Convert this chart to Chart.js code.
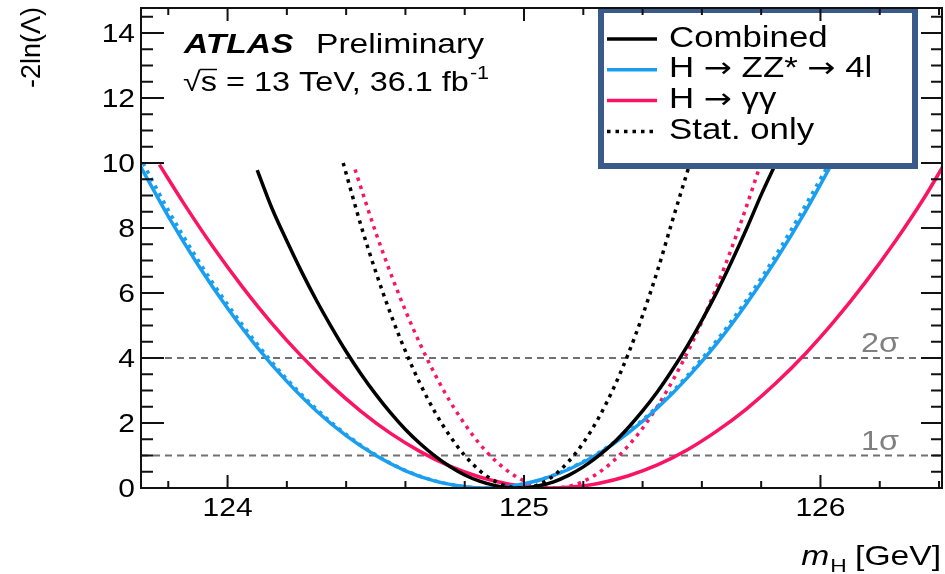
<!DOCTYPE html>
<html>
<head>
<meta charset="utf-8">
<script src="https://cdn.jsdelivr.net/npm/chart.js@4.4.1/dist/chart.umd.min.js"></script>
<style>
  html, body { margin: 0; padding: 0; background: #fff; }
  canvas { display: block; }
</style>
</head>
<body>
<canvas id="mass" width="945" height="574"></canvas>
<script>
// axis ranges and tick labels
const X_MIN = 123.708;
const X_MAX = 126.41;
const Y_MAX = 14.77;
const xTickValues = [124, 125, 126];
const yTickValues = [0, 2, 4, 6, 8, 10, 12, 14];
const sigmaLevels = [4, 1];
const sigmaLabels = ["2\u03c3", "1\u03c3"];

// Combined
const combinedMass = [124.10, 124.15, 124.20, 124.25, 124.30, 124.35, 124.40, 124.45, 124.50, 124.55, 124.60, 124.65, 124.70, 124.75, 124.80, 124.85, 124.90, 124.95, 125.00, 125.05, 125.10, 125.15, 125.20, 125.25, 125.30, 125.35, 125.40, 125.45, 125.50, 125.55, 125.60, 125.65, 125.70, 125.75, 125.80, 125.85];
const combinedNll  = [9.78, 8.60, 7.60, 6.65, 5.77, 4.96, 4.20, 3.51, 2.88, 2.31, 1.80, 1.36, 0.98, 0.66, 0.40, 0.21, 0.08, 0.01, 0.00, 0.07, 0.19, 0.39, 0.65, 0.98, 1.37, 1.84, 2.37, 2.96, 3.63, 4.36, 5.16, 6.02, 6.96, 7.96, 9.02, 10.0];

// Combined, stat. only
const combinedStatMass = [124.39, 124.45, 124.50, 124.55, 124.60, 124.65, 124.70, 124.75, 124.80, 124.85, 124.90, 124.95, 125.00, 125.05, 125.10, 125.15, 125.20, 125.25, 125.30, 125.35, 125.40, 125.45, 125.50, 125.56];
const combinedStatNll  = [10.0, 8.08, 6.65, 5.36, 4.21, 3.20, 2.33, 1.60, 1.00, 0.54, 0.22, 0.04, 0.00, 0.11, 0.38, 0.81, 1.39, 2.13, 3.03, 4.09, 5.31, 6.68, 8.21, 10.0];

// H -> ZZ* -> 4l
const zzMass = [123.70, 123.80, 123.90, 124.00, 124.10, 124.20, 124.30, 124.40, 124.50, 124.60, 124.70, 124.80, 124.87, 124.95, 125.05, 125.15, 125.25, 125.35, 125.45, 125.55, 125.65, 125.75, 125.85, 125.95, 126.04];
const zzNll  = [10.0, 8.36, 6.87, 5.53, 4.33, 3.28, 2.37, 1.61, 1.00, 0.53, 0.21, 0.04, 0.00, 0.05, 0.24, 0.57, 1.05, 1.68, 2.46, 3.38, 4.44, 5.66, 7.02, 8.52, 10.0];

// H -> ZZ* -> 4l, stat. only
const zzStatMass = [123.715, 123.80, 123.90, 124.00, 124.10, 124.20, 124.30, 124.40, 124.50, 124.60, 124.70, 124.80, 124.87, 124.95, 125.05, 125.15, 125.25, 125.35, 125.45, 125.55, 125.65, 125.75, 125.85, 125.95, 126.03];
const zzStatNll  = [10.0, 8.55, 7.02, 5.65, 4.43, 3.35, 2.43, 1.65, 1.02, 0.54, 0.22, 0.04, 0.00, 0.05, 0.24, 0.59, 1.08, 1.72, 2.51, 3.45, 4.54, 5.78, 7.17, 8.71, 10.0];

// H -> gamma gamma
const ggMass = [123.77, 123.85, 123.95, 124.05, 124.15, 124.25, 124.35, 124.45, 124.55, 124.65, 124.75, 124.85, 124.95, 125.05, 125.10, 125.15, 125.25, 125.35, 125.45, 125.55, 125.65, 125.75, 125.85, 125.95, 126.05, 126.15, 126.25, 126.35, 126.42];
const ggNll  = [9.95, 8.79, 7.43, 6.19, 5.06, 4.05, 3.15, 2.36, 1.68, 1.12, 0.67, 0.34, 0.12, 0.01, 0.00, 0.02, 0.14, 0.37, 0.71, 1.17, 1.75, 2.43, 3.23, 4.14, 5.17, 6.31, 7.56, 8.93, 10.0];

// H -> gamma gamma, stat. only
const ggStatMass = [124.43, 124.50, 124.55, 124.60, 124.65, 124.70, 124.75, 124.80, 124.85, 124.90, 124.95, 125.00, 125.05, 125.10, 125.15, 125.20, 125.25, 125.30, 125.35, 125.40, 125.45, 125.50, 125.55, 125.60, 125.65, 125.70, 125.75, 125.79];
const ggStatNll  = [9.80, 7.86, 6.61, 5.46, 4.42, 3.49, 2.67, 1.97, 1.36, 0.87, 0.49, 0.22, 0.05, 0.00, 0.05, 0.20, 0.46, 0.82, 1.28, 1.84, 2.51, 3.28, 4.15, 5.12, 6.19, 7.37, 8.65, 9.75];

const FONT = '"Liberation Sans", Arial, Helvetica, sans-serif';
const ARROW_FONT = '"DejaVu Sans", sans-serif';
const SX = 1.2; // the reference text is a bit wide
const BLACK = "#000000";
const BLUE = "#1a9ff0";
const PINK = "#fc1464";
const DOT = [3.5, 5];

const pts = (xs, ys) => xs.map((v, i) => ({ x: v, y: ys[i] }));

// legendRank: position in the legend box, 0 = not shown
const curve = (label, xs, ys, color, dash, legendRank) => ({
  label: label,
  data: pts(xs, ys),
  borderColor: color,
  borderWidth: 3.5,
  borderDash: dash,
  borderCapStyle: "butt",
  cubicInterpolationMode: "monotone",
  pointRadius: 0,
  fill: false,
  legendRank: legendRank
});

const sigmaLine = level => ({
  label: "",
  data: [{ x: X_MIN, y: level }, { x: X_MAX, y: level }],
  borderColor: "#707070",
  borderWidth: 2,
  borderDash: [7, 5],
  pointRadius: 0,
  fill: false,
  legendRank: 0
});

//========================================================================
const text = (ctx, s, x, y, font, color, align) => {
  ctx.save();
  ctx.font = font;
  ctx.fillStyle = color;
  ctx.textBaseline = "alphabetic";
  ctx.textAlign = "left";
  const w = ctx.measureText(s).width * SX;
  let x0 = x;
  if (align == "right") {
    x0 = x - w;
  } else if (align == "center") {
    x0 = x - w / 2;
  }
  ctx.translate(x0, y);
  ctx.scale(SX, 1);
  ctx.fillText(s, 0, 0);
  ctx.restore();
  return w;
};

// label with long ROOT-like arrows
const richLabel = (ctx, s, x, y, size) => {
  const parts = s.split("\u2192");
  let cx = x;
  parts.forEach((p, i) => {
    if (i > 0) {
      cx += text(ctx, "\u2192", cx, y, (size - 1) + "px " + ARROW_FONT, "#000");
    }
    cx += text(ctx, p, cx, y, size + "px " + FONT, "#000");
  });
};

//========================================================================
const atlasDecor = {
  id: "atlasDecor",
  afterDraw: chart => {
    const { ctx, chartArea: a, scales: { x, y } } = chart;

    // legend box, drawn over the curves
    ctx.save();
    ctx.fillStyle = "#ffffff";
    ctx.fillRect(601, 10, 314, 156);
    ctx.lineWidth = 6;
    ctx.strokeStyle = "#3a5a8a";
    ctx.strokeRect(601, 10, 314, 156);
    ctx.restore();

    const entries = chart.data.datasets
      .filter(d => d.legendRank > 0)
      .sort((p, q) => p.legendRank - q.legendRank);
    entries.forEach((d, i) => {
      const yy = 39 + i * 30.8;
      ctx.save();
      ctx.strokeStyle = d.borderColor;
      ctx.lineWidth = 3.5;
      ctx.setLineDash(d.borderDash);
      ctx.beginPath();
      ctx.moveTo(607, yy);
      ctx.lineTo(657, yy);
      ctx.stroke();
      ctx.restore();
      richLabel(ctx, d.label, 669, yy + 7.5, 29);
    });

    // frame and inward ticks on all four sides
    ctx.save();
    ctx.strokeStyle = "#111";
    ctx.lineWidth = 2;
    ctx.strokeRect(a.left, a.top, a.right - a.left, a.bottom - a.top);
    ctx.beginPath();
    for (let t = 1; t <= 29; t++) {
      const py = y.getPixelForValue(t / 2);
      if (py < a.top) break;
      const major = t % 4 == 0;
      ctx.moveTo(a.left, py);
      ctx.lineTo(a.left + (major ? 23 : 12), py);
      ctx.moveTo(a.right, py);
      ctx.lineTo(a.right - (major ? 21 : 11), py);
    }
    for (let t = 1238; t <= 1264; t += 2) {
      const px = x.getPixelForValue(t / 10);
      const len = t % 10 == 0 ? 13 : 7;
      ctx.moveTo(px, a.bottom);
      ctx.lineTo(px, a.bottom - len);
      ctx.moveTo(px, a.top);
      ctx.lineTo(px, a.top + len);
    }
    ctx.stroke();
    ctx.restore();

    // tick labels
    y.ticks.forEach(t => {
      text(ctx, String(t.value), a.left - 6, y.getPixelForValue(t.value) + 9, "25px " + FONT, "#000", "right");
    });
    x.ticks.forEach(t => {
      text(ctx, String(t.value), x.getPixelForValue(t.value), 516, "25px " + FONT, "#000", "center");
    });

    // sigma labels
    sigmaLevels.forEach((lv, i) => {
      text(ctx, sigmaLabels[i], 861, y.getPixelForValue(lv) - 6, "27px " + FONT, "#808080");
    });

    // ATLAS label
    text(ctx, "ATLAS", 184, 53, "italic bold 28px " + FONT, "#000");
    text(ctx, "Preliminary", 316, 53, "28px " + FONT, "#000");
    let cx = 183;
    const rw = text(ctx, "\u221a", cx, 91, "27px " + FONT, "#000");
    cx += rw;
    const sw = text(ctx, "s", cx, 91, "27px " + FONT, "#000");
    ctx.save();
    ctx.strokeStyle = "#000";
    ctx.lineWidth = 1.5;
    ctx.beginPath();
    ctx.moveTo(cx - 1, 69.5);
    ctx.lineTo(cx + sw, 69.5);
    ctx.stroke();
    ctx.restore();
    cx += sw;
    cx += text(ctx, " = 13 TeV, 36.1 fb", cx, 91, "27px " + FONT, "#000");
    text(ctx, "-1", cx + 1, 79, "18px " + FONT, "#000");

    // axis titles
    ctx.save();
    ctx.translate(40, 7);
    ctx.rotate(-Math.PI / 2);
    ctx.font = "27px " + FONT;
    ctx.fillStyle = "#000";
    ctx.textAlign = "right";
    ctx.textBaseline = "alphabetic";
    ctx.fillText("-2ln(\u039b)", 0, 0);
    ctx.restore();

    ctx.save();
    ctx.font = "italic 28px " + FONT;
    const w1 = ctx.measureText("m").width * SX;
    ctx.font = "19px " + FONT;
    const w2 = ctx.measureText("H").width * SX;
    ctx.font = "28px " + FONT;
    const w3 = ctx.measureText(" [GeV]").width * SX;
    ctx.restore();
    let tx = 941 - (w1 + w2 + w3);
    text(ctx, "m", tx, 565, "italic 28px " + FONT, "#000");
    tx += w1 + 1;
    text(ctx, "H", tx, 572, "19px " + FONT, "#000");
    tx += w2 - 1;
    text(ctx, " [GeV]", tx, 565, "28px " + FONT, "#000");
  }
};

//========================================================================
// first dataset is drawn on top
const datasets = [
  curve("Combined", combinedMass, combinedNll, BLACK, [], 1),
  curve("Stat. only", combinedStatMass, combinedStatNll, BLACK, DOT, 4),
  curve("H \u2192 ZZ* \u2192 4l", zzMass, zzNll, BLUE, [], 2),
  curve("H \u2192 ZZ* \u2192 4l (stat.)", zzStatMass, zzStatNll, BLUE, DOT, 0),
  curve("H \u2192 \u03b3\u03b3", ggMass, ggNll, PINK, [], 3),
  curve("H \u2192 \u03b3\u03b3 (stat.)", ggStatMass, ggStatNll, PINK, DOT, 0),
  sigmaLine(sigmaLevels[0]),
  sigmaLine(sigmaLevels[1])
];

new Chart(document.getElementById("mass"), {
  type: "line",
  data: { datasets: datasets },
  options: {
    responsive: false,
    animation: false,
    devicePixelRatio: 1,
    layout: { padding: { left: 0, top: 8, right: 3, bottom: 0 } },
    plugins: {
      legend: { display: false },
      tooltip: { enabled: false }
    },
    scales: {
      x: {
        type: "linear",
        min: X_MIN,
        max: X_MAX,
        grid: { display: false },
        border: { display: false },
        ticks: { display: false },
        afterBuildTicks: s => { s.ticks = xTickValues.map(v => ({ value: v })); },
        afterFit: s => { s.height = 86; }
      },
      y: {
        type: "linear",
        min: 0,
        max: Y_MAX,
        grid: { display: false },
        border: { display: false },
        ticks: { display: false },
        afterBuildTicks: s => { s.ticks = yTickValues.map(v => ({ value: v })); },
        afterFit: s => { s.width = 141; }
      }
    }
  },
  plugins: [atlasDecor]
});
</script>
</body>
</html>
